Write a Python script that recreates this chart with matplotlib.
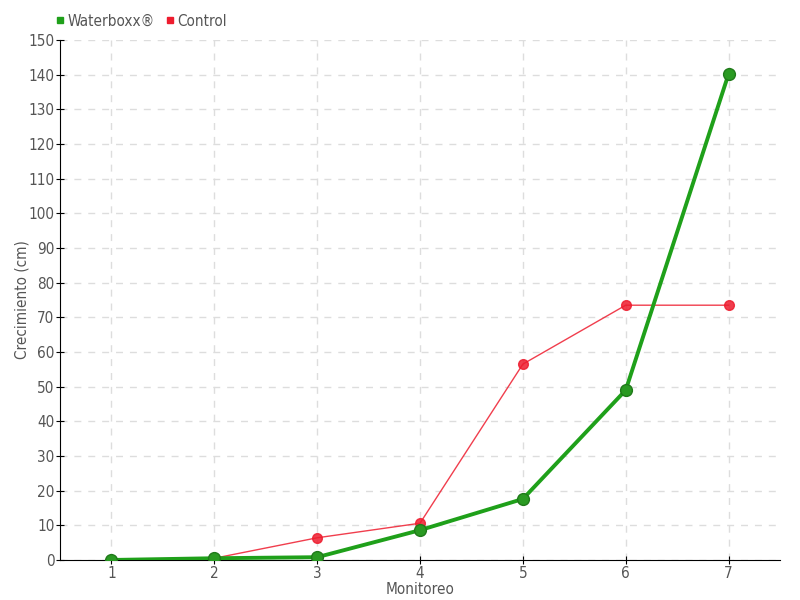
import matplotlib
matplotlib.use("Agg")
import matplotlib.pyplot as plt
from matplotlib.lines import Line2D

monitoreo = [1, 2, 3, 4, 5, 6, 7]
waterboxx = [0, 0.5, 0.8, 8.6, 17.6, 49.0, 140.2]
control = [0, 0.5, 6.4, 10.6, 56.5, 73.5, 73.5]
yticks = list(range(0, 151, 10))

plt.rcParams['font.family'] = ['DejaVu Sans']
plt.rcParams['font.stretch'] = 'condensed'

fig = plt.figure(figsize=(8, 6), dpi=100)
ax = fig.add_axes([0.075, 0.0667, 0.9, 0.8666])

green = '#1fa01a'
red = '#ee1c2e'
ax.plot(monitoreo, control, color=red, lw=1, marker='o', ms=7,
        markerfacecolor=red, markeredgecolor=red, alpha=0.85, zorder=3)
ax.plot(monitoreo, waterboxx, color=green, lw=2.8, marker='o', ms=8.5,
        markerfacecolor='#2a9a22', markeredgecolor='#207a1a', zorder=4)

ax.set_xlim(0.5, 7.5)
ax.set_ylim(0, 150)
ax.set_xticks(monitoreo)
ax.set_yticks(yticks)
ax.grid(True, color='#dddddd', linestyle=(0, (5, 5)), lw=1)
ax.set_axisbelow(True)
for s in ['top', 'right']:
    ax.spines[s].set_visible(False)
for s in ['left', 'bottom']:
    ax.spines[s].set_color('black')
ax.tick_params(axis='both', colors='#555555', labelsize=11, direction='inout', length=6, pad=1)
ax.tick_params(axis='both', color='black')
ax.set_xlabel('Monitoreo', color='#555555', fontsize=11)
ax.xaxis.set_label_coords(0.5, -0.057)
ax.xaxis.label.set_va('center')
ax.set_ylabel('Crecimiento (cm)', color='#555555', fontsize=11)
ax.yaxis.set_label_coords(-0.042, 0.5)

handles = [Line2D([], [], color=green, marker='s', ls='none', ms=5),
           Line2D([], [], color=red, marker='s', ls='none', ms=5)]
fig.legend(handles, ['Waterboxx®', 'Control'], loc='upper left',
           bbox_to_anchor=(0.05, 1.0), ncol=2, frameon=False, fontsize=11,
           handletextpad=0.1, columnspacing=0.6, labelcolor='#555555',
           handlelength=0.8)

fig.savefig('out.png', dpi=100)
